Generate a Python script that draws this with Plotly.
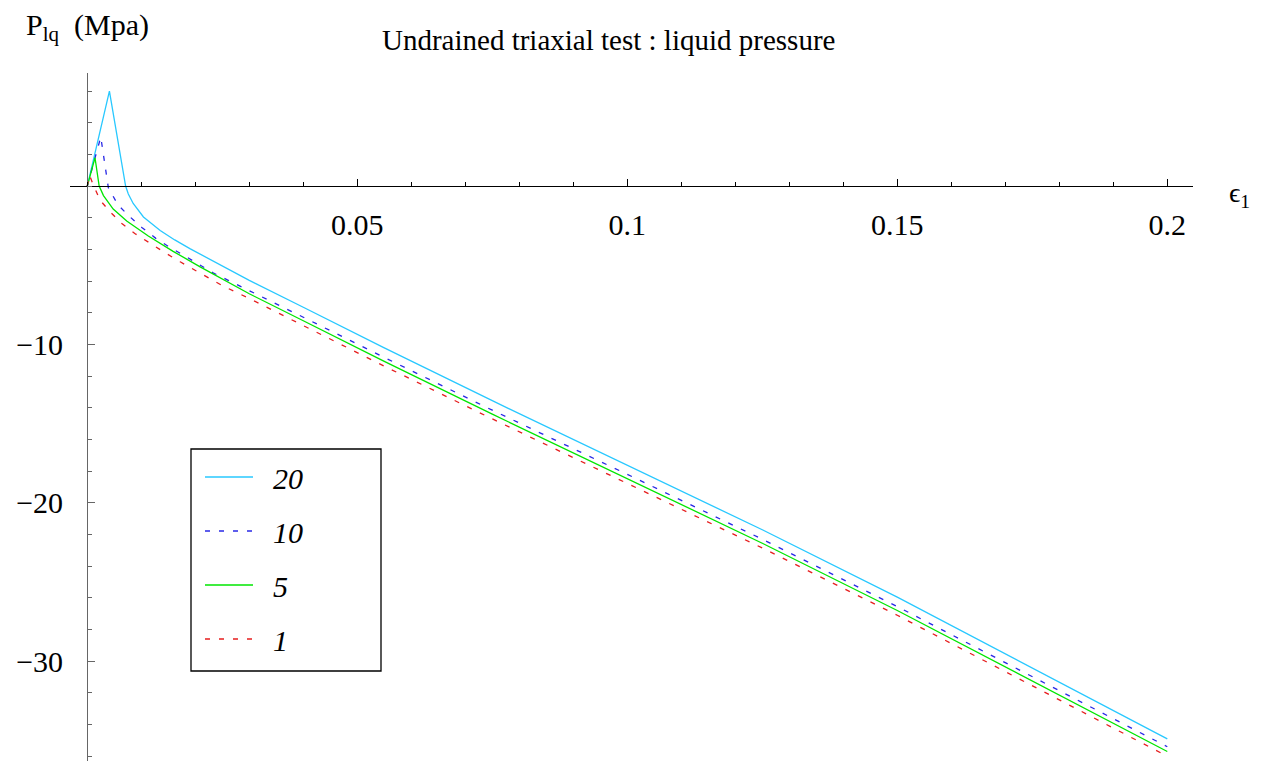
import plotly.graph_objects as go

# ---- data ----
x_20 = [0, 0.0041, 0.0071, 0.0076, 0.0085, 0.0104, 0.0135, 0.0162, 0.019, 0.025, 0.030, 0.040, 0.055, 0.075, 0.1, 0.125, 0.15, 0.175, 0.2]
y_20 = [0, 6.0, 0, -0.5, -1.1, -1.95, -2.8, -3.4, -3.95, -5.05, -5.95, -7.65, -10.22, -13.55, -17.6, -21.7, -25.95, -30.4, -34.9]

x_10 = [0, 0.0025, 0.0039, 0.0057, 0.0079, 0.0101, 0.0127, 0.0153, 0.0181, 0.0206, 0.0233, 0.0261, 0.030, 0.040, 0.055, 0.075, 0.1, 0.125, 0.15, 0.175, 0.2]
y_10 = [0, 3.1, -0.1, -1.2, -1.94, -2.61, -3.3, -3.87, -4.42, -4.93, -5.48, -5.95, -6.6, -8.28, -10.82, -14.15, -18.2, -22.3, -26.55, -31.0, -35.4]

x_5 = [0, 0.00143, 0.0022, 0.003, 0.0048, 0.0073, 0.0113, 0.0159, 0.0209, 0.0277, 0.030, 0.040, 0.055, 0.075, 0.1, 0.125, 0.15, 0.175, 0.2]
y_5 = [0, 1.79, 0, -0.6, -1.45, -2.2, -3.15, -4.12, -5.1, -6.4, -6.8, -8.5, -11.07, -14.4, -18.45, -22.55, -26.8, -31.25, -35.7]

x_1 = [0, 0.0004, 0.001, 0.00235, 0.0042, 0.0064, 0.0088, 0.0116, 0.0144, 0.0172, 0.0199, 0.0224, 0.0252, 0.030, 0.040, 0.055, 0.075, 0.1, 0.125, 0.15, 0.175, 0.2]
y_1 = [0, 0.7, 0.17, -0.88, -1.62, -2.36, -2.99, -3.62, -4.21, -4.78, -5.31, -5.77, -6.32, -7.1, -8.8, -11.37, -14.7, -18.75, -22.85, -27.1, -31.55, -36.0]

series_names = ["20", "10", "5", "1"]
x_tick_vals = [0.05, 0.1, 0.15, 0.2]
x_tick_text = ["0.05", "0.1", "0.15", "0.2"]
y_tick_vals = [-30, -20, -10]
y_tick_text = ["\u221230", "\u221220", "\u221210"]

# ---- layout geometry ----
W, H = 1263, 775
L, R, T, B = 70, 70, 73, 14
XR = [-0.0032, 0.20476]
YR = [-36.3, 7.14]
PW, PH = W - L - R, H - T - B


def px(xp):
    return (xp - L) / PW


def py(yp):
    return (H - B - yp) / PH


FONT = "Liberation Serif"

fig = go.Figure()
styles = [
    dict(color="rgb(40,200,255)", dash="solid"),
    dict(color="rgb(40,40,230)", dash="5px,9px"),
    dict(color="rgb(0,230,0)", dash="solid"),
    dict(color="rgb(230,30,30)", dash="5px,9px"),
]
for i, (xs, ys) in enumerate([(x_20, y_20), (x_10, y_10), (x_5, y_5), (x_1, y_1)]):
    fig.add_trace(go.Scatter(
        x=xs, y=ys, mode="lines", name="\u00a0\u00a0<i>" + series_names[i] + "</i>",
        line=dict(color=styles[i]["color"], dash=styles[i]["dash"], width=1.3),
        legendgroup="g" + str(i), hoverinfo="skip",
    ))

xpos = (0 - YR[0]) / (YR[1] - YR[0])
ypos = (0 - XR[0]) / (XR[1] - XR[0])

fig.update_layout(
    template="none",
    width=W, height=H,
    margin=dict(l=L, r=R, t=T, b=B, pad=0),
    paper_bgcolor="white", plot_bgcolor="white",
    showlegend=True,
    legend=dict(
        x=px(200), y=py(451), xanchor="left", yanchor="top",
        borderwidth=0, bgcolor="rgba(0,0,0,0)",
        font=dict(family=FONT, size=30, color="black"),
        tracegroupgap=12, itemwidth=48,
    ),
    xaxis=dict(
        range=XR, domain=[0, 1], anchor="free", position=xpos,
        showgrid=False, zeroline=False, showline=True, linecolor="black", linewidth=1.3,
        tickmode="array", tickvals=x_tick_vals, ticktext=x_tick_text,
        ticks="inside", ticklen=7, tickwidth=1, tickcolor="black",
        minor=dict(dtick=0.01, tick0=0, ticks="inside", ticklen=4, tickwidth=1, tickcolor="black"),
        tickfont=dict(family=FONT, size=30, color="black"),
        ticklabelstandoff=12,
    ),
    yaxis=dict(
        range=YR, domain=[0, 1], anchor="free", position=ypos,
        showgrid=False, zeroline=False, showline=True, linecolor="#666666", linewidth=1.3,
        tickmode="array", tickvals=y_tick_vals, ticktext=y_tick_text,
        ticks="inside", ticklen=7, tickwidth=1, tickcolor="#666666",
        minor=dict(dtick=2, tick0=0, ticks="inside", ticklen=4, tickwidth=1, tickcolor="#666666"),
        tickfont=dict(family=FONT, size=30, color="black"),
        ticklabelstandoff=18,
    ),
    shapes=[dict(type="rect", xref="paper", yref="paper",
                 x0=px(191), x1=px(381), y0=py(671), y1=py(449),
                 line=dict(color="black", width=1.3), fillcolor="rgba(0,0,0,0)", layer="above")],
)

fig.add_annotation(text="Undrained triaxial test : liquid pressure", xref="paper", yref="paper",
                   x=px(608), y=py(40), xanchor="center", yanchor="middle", showarrow=False,
                   font=dict(family=FONT, size=29, color="black"))
fig.add_annotation(text="P<sub>lq</sub>\u00a0\u00a0(Mpa)", xref="paper", yref="paper",
                   x=px(24), y=py(27), xanchor="left", yanchor="middle", showarrow=False,
                   font=dict(family=FONT, size=30, color="black"))
fig.add_annotation(text="\u03f5<sub>1</sub>", xref="paper", yref="paper",
                   x=px(1227), y=py(194), xanchor="left", yanchor="middle", showarrow=False,
                   font=dict(family=FONT, size=28, color="black"))

fig.write_html("out.html")
